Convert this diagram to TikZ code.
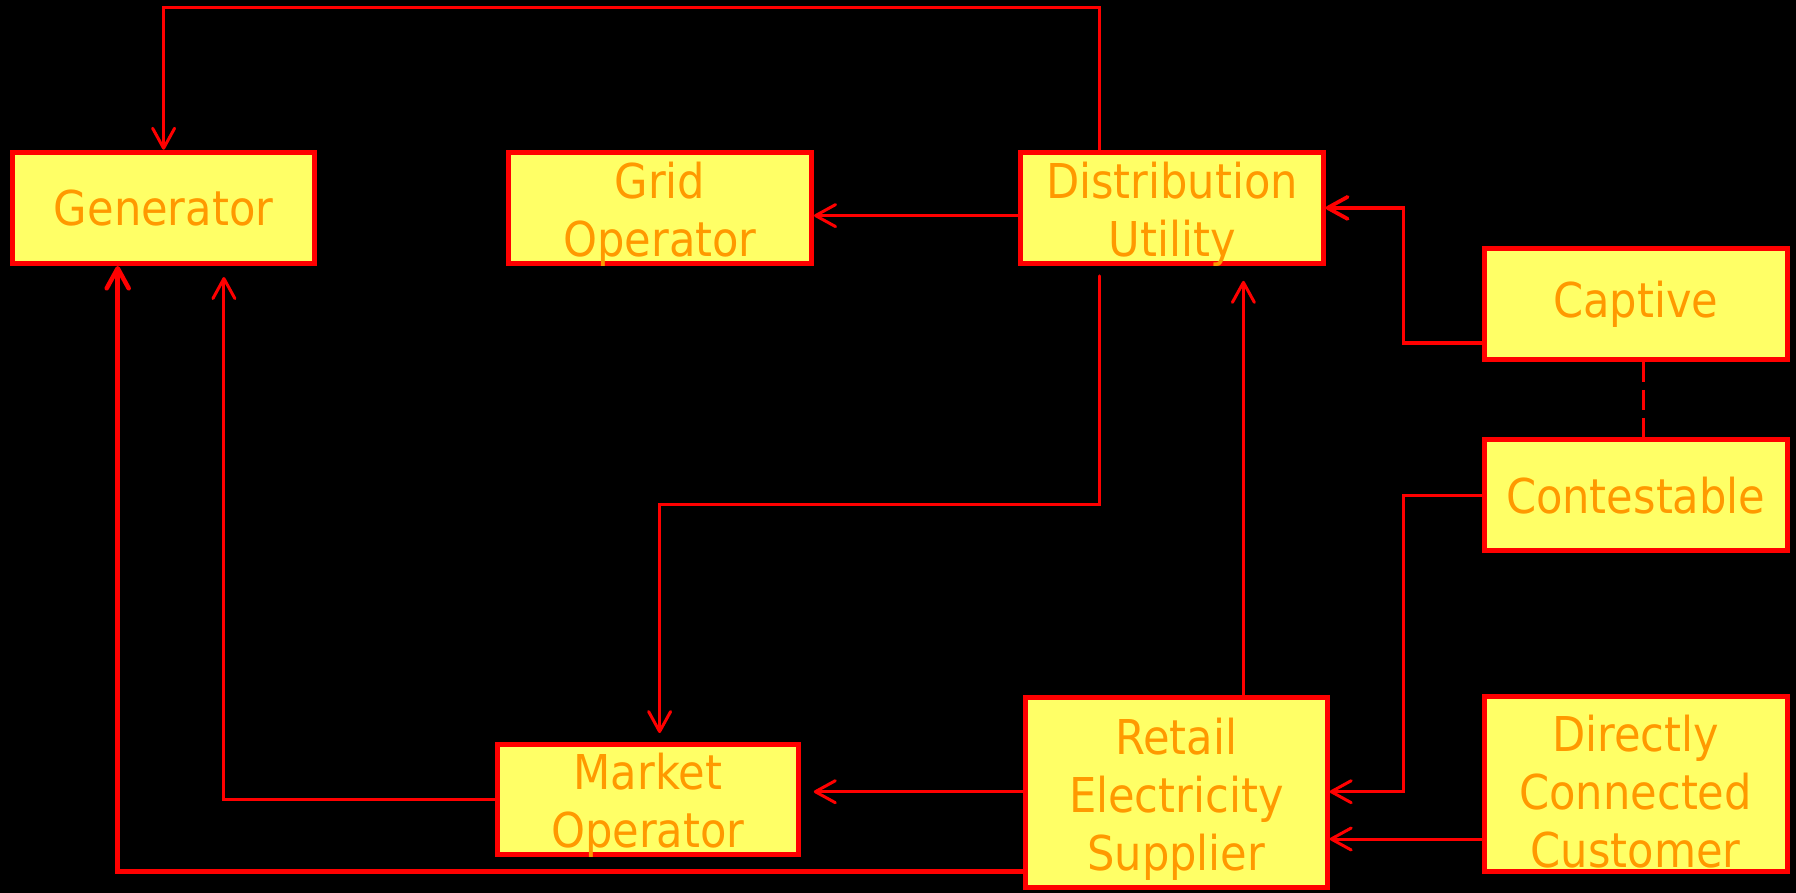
\documentclass[tikz,border=0pt]{standalone}
\usepackage{fontspec}
\setmainfont{DejaVu Sans Condensed}
\usetikzlibrary{arrows.meta}
\definecolor{boxfill}{HTML}{FFFF66}
\definecolor{boxred}{HTML}{FF0000}
\definecolor{txtorange}{HTML}{FF9900}
\tikzset{
  ent/.style={draw=boxred, fill=boxfill, line width=5pt, text=txtorange,
    align=center, inner sep=0pt, font=\fontsize{48}{58}\selectfont},
  lbl/.style={text=txtorange, align=center, inner sep=0pt, font=\fontsize{48}{58}\selectfont},
  conn/.style={draw=boxred, line width=3pt, line cap=round, line join=miter},
  thickconn/.style={conn, line width=4.5pt},
  arr/.style={-{Straight Barb[length=20pt,width=22pt,round]}},
}
\begin{document}
\begin{tikzpicture}[x=1pt,y=-1pt]
\fill[black] (0,0) rectangle (1796,893);
\useasboundingbox (0,0) rectangle (1796,893);

\node[ent, minimum width=302.6pt, minimum height=111.3pt] (gen) at (163.6,207.9) {Generator};
\node[ent, minimum width=303.3pt, minimum height=111pt] (grid) at (659.9,207.9) {};
\node[ent, minimum width=302.4pt, minimum height=111pt] (dist) at (1172,207.9) {};
\node[ent, minimum width=303pt, minimum height=110.7pt] (cap) at (1635.7,303.9) {Captive};
\node[ent, minimum width=303pt, minimum height=111pt] (cont) at (1635.7,495.3) {Contestable};
\node[ent, minimum width=303pt, minimum height=174.7pt] (dir) at (1635.7,784.2) {};
\node[ent, minimum width=301.8pt, minimum height=189.7pt] (ret) at (1176.3,792.2) {};
\node[ent, minimum width=301pt, minimum height=110.3pt] (mo) at (647.8,799.7) {};

\node[lbl] (gridt) at ([yshift=-6pt]grid.center) {Grid\\Operator};
\node[lbl] (distt) at ([yshift=-6pt]dist.center) {Distribution\\Utility};
\node[lbl] (dirt) at ([yshift=-7pt]dir.center) {Directly\\Connected\\Customer};
\node[lbl] (rett) at ([yshift=-7pt]ret.center) {Retail\\Electricity\\Supplier};
\node[lbl] (mot) at ([yshift=-6pt]mo.center) {Market\\Operator};

% helper coordinates
\coordinate (c1) at (1099.4,7.3);
\coordinate (d1) at (1099.4,504);
\coordinate (d2) at (659.6,504);
\coordinate (rx) at (1243.4,500);
\coordinate (v1) at (1403.4,343.3);
\coordinate (dx) at (1643.4,400);
\coordinate (v2) at (1403.4,791.7);
\coordinate (y3) at (1400,839);
\coordinate (v4) at (223.9,799.3);
\coordinate (v5) at (117.7,871.7);

% distribution utility -> generator (top loop)
\draw[conn,arr] (dist.north -| c1) -- (c1) -| (gen.north);
% distribution utility -> grid operator
\draw[conn,arr] ([yshift=-7.7pt]dist.west) -- ([yshift=-7.7pt]grid.east);
% distribution utility -> market operator
\draw[conn,arr] ([yshift=-10pt]dist.south -| d1) -- (d1) -- (d2) -- ([yshift=9pt]mo.north -| d2);
% retail -> distribution utility
\draw[conn,arr] (ret.north -| rx) -- ([yshift=-15pt]dist.south -| rx);
% captive -> distribution utility
\draw[conn,line width=3.8pt,arr] (cap.west |- v1) -- (v1) |- (dist.east);
% captive -- contestable
\draw[boxred, line width=2.4pt, dash pattern=on 20pt off 8pt] (cap.south -| dx) -- (cont.north -| dx);
% contestable -> retail
\draw[conn,arr] (cont.west) -| (v2) -- (v2 -| ret.east);
% directly connected -> retail
\draw[conn,arr] (dir.west |- y3) -- (ret.east |- y3);
% retail -> market operator
\draw[conn,arr] (ret.west |- v2) -- ([xshift=13pt]mo.east |- v2);
% market operator -> generator
\draw[conn,arr] (mo.west |- v4) -| ([yshift=-11pt]gen.south -| v4);
% retail -> generator
\draw[thickconn,arr] (ret.west |- v5) -| (gen.south -| v5);
\end{tikzpicture}
\end{document}
